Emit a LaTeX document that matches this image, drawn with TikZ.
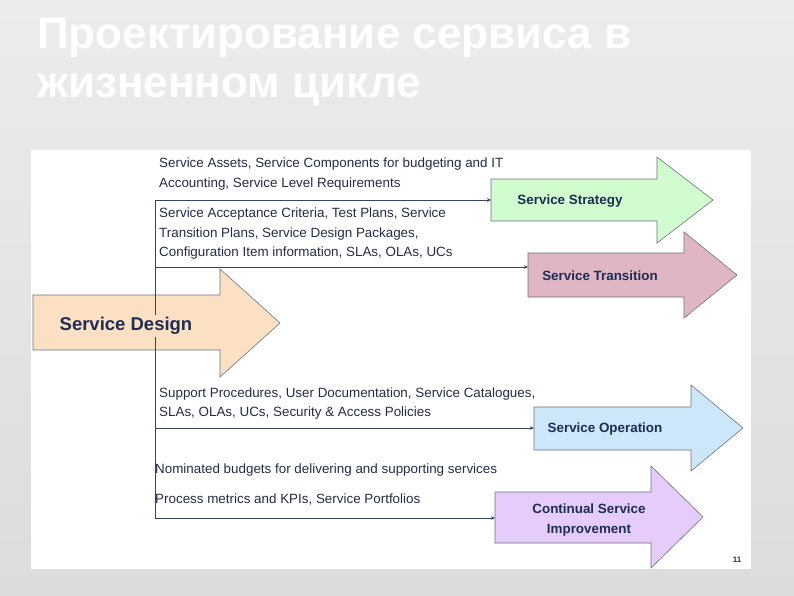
\documentclass[tikz,border=0pt]{standalone}
\usepackage{fontspec}
\setmainfont{Liberation Sans}
\usetikzlibrary{arrows.meta}
\definecolor{bgtop}{RGB}{236,236,236}
\definecolor{bgbot}{RGB}{220,220,220}
\definecolor{txt}{RGB}{35,45,70}
\definecolor{lbl}{RGB}{30,45,85}
\definecolor{edge}{RGB}{110,115,125}
\definecolor{conn}{RGB}{50,70,100}
\definecolor{cstrat}{RGB}{208,252,208}
\definecolor{ctrans}{RGB}{224,182,196}
\definecolor{cdesign}{RGB}{252,224,196}
\definecolor{coper}{RGB}{204,230,250}
\definecolor{ccsi}{RGB}{230,204,250}
\tikzset{
  bigarrow/.style={draw=edge, line width=0.6pt, line join=miter},
  info/.style={text=txt, font=\fontsize{13.4}{19.5}\selectfont, align=left, anchor=west, inner sep=0pt},
  arrlabel/.style={text=lbl, font=\fontsize{13.4}{20}\selectfont\bfseries, align=center, inner sep=1pt},
  conline/.style={draw=conn, line width=0.6pt},
  conarrow/.style={conline, -{Stealth[length=4pt,width=3.5pt]}},
  title/.style={anchor=base west, text=white, font=\fontsize{44}{50}\selectfont\bfseries, inner sep=0pt},
}
\begin{document}
\begin{tikzpicture}[x=1pt,y=-1pt]
\shade[top color=bgtop, bottom color=bgbot] (0,0) rectangle (794,595);
\useasboundingbox (0,0) rectangle (794,595);
% title
\node[title] (t1) at (37,48) {Проектирование сервиса в};
\node[title] (t2) at (37,97) {жизненном цикле};
% white panel
\fill[white] (31,150) rectangle (751,569);
% arrows
\draw[bigarrow, fill=cstrat] (491,179) -- (657,179) -- (657,157) -- (713,200) -- (657,243) -- (657,221) -- (491,221) -- cycle;
\draw[bigarrow, fill=ctrans] (528,253) -- (684,253) -- (684,232) -- (737,275) -- (684,318) -- (684,297) -- (528,297) -- cycle;
\draw[bigarrow, fill=coper] (534,407) -- (691,407) -- (691,385) -- (743,428) -- (691,471) -- (691,450) -- (534,450) -- cycle;
\draw[bigarrow, fill=ccsi] (495,492) -- (651,492) -- (651,466) -- (703,517) -- (651,568) -- (651,543) -- (495,543) -- cycle;
\draw[bigarrow, fill=cdesign] (33,295) -- (220,295) -- (220,269) -- (280,323) -- (220,377) -- (220,350) -- (33,350) -- cycle;
% connector endpoints
\coordinate (top) at (155,200);
\coordinate (bot) at (155,518);
\coordinate (j2) at (155,267);
\coordinate (j3) at (155,428);
\coordinate (ss) at (491,200);
\coordinate (st) at (528,267);
\coordinate (so) at (534,428);
\coordinate (ci) at (495,518);
\draw[conline] (top) -- (bot);
\draw[conarrow] (top) -- (ss);
\draw[conarrow] (j2) -- (st);
\draw[conarrow] (j3) -- (so);
\draw[conarrow] (bot) -- (ci);
% arrow labels
\node[arrlabel] (lss) at (570,201) {Service Strategy};
\node[arrlabel] (lst) at (600,276) {Service Transition};
\node[arrlabel] (lso) at (605,429) {Service Operation};
\node[arrlabel] (lci) at (589,520) {Continual Service\\Improvement};
\node[arrlabel, fill=cdesign, font=\fontsize{18.5}{22}\selectfont\bfseries, inner sep=2pt] (lsd) at (126,326) {Service Design};
% info texts
\node[info] (i1) at (159,174) {Service Assets, Service Components for budgeting and IT\\Accounting, Service Level Requirements};
\node[info] (i2) at (159,234) {Service Acceptance Criteria, Test Plans, Service\\Transition Plans, Service Design Packages,\\Configuration Item information, SLAs, OLAs, UCs};
\node[info] (i3) at (159,403.5) {Support Procedures, User Documentation, Service Catalogues,\\SLAs, OLAs, UCs, Security \& Access Policies};
\node[info] (i4) at (155,470) {Nominated budgets for delivering and supporting services};
\node[info] (i5) at (155,499) {Process metrics and KPIs, Service Portfolios};
\node[text=black!80, font=\fontsize{8}{9}\selectfont\bfseries, inner sep=0pt] (pg) at (737,560) {11};
\end{tikzpicture}
\end{document}
